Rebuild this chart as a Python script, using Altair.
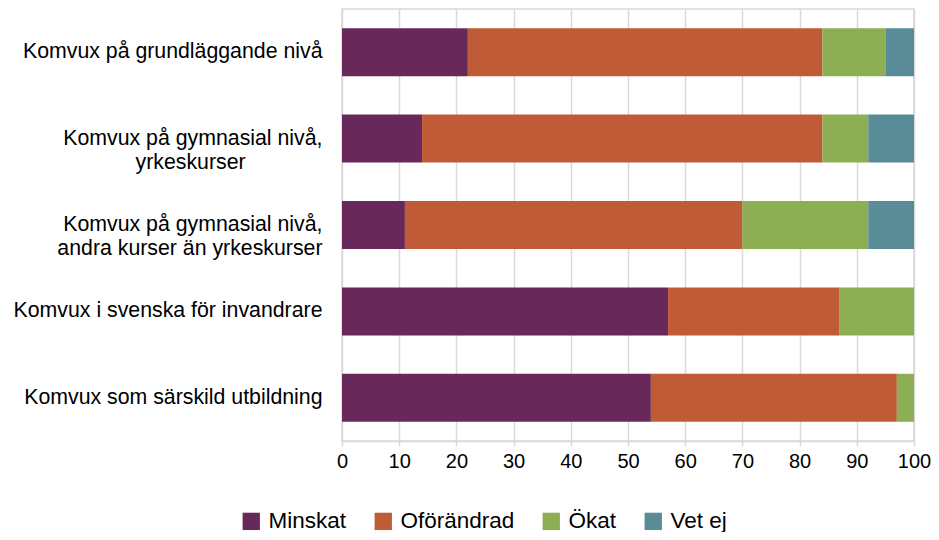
import altair as alt
import pandas as pd

categories = [
    "Komvux på grundläggande nivå",
    "Komvux på gymnasial nivå,\nyrkeskurser" + "\u00a0" * 13 + "\u200b",
    "Komvux på gymnasial nivå,\nandra kurser än yrkeskurser",
    "Komvux i svenska för invandrare",
    "Komvux som särskild utbildning",
]
series = ["Minskat", "Oförändrad", "Ökat", "Vet ej"]
minskat = [22, 14, 11, 57, 54]
oforandrad = [62, 70, 59, 30, 43]
okat = [11, 8, 22, 13, 3]
vet_ej = [5, 8, 8, 0, 0]
x_ticks = [0, 10, 20, 30, 40, 50, 60, 70, 80, 90, 100]
colors = ["#69285A", "#BF5B36", "#8DAE52", "#5A8C97"]

rows = []
for i, c in enumerate(categories):
    for j, (s, vals) in enumerate(zip(series, [minskat, oforandrad, okat, vet_ej])):
        rows.append({"kategori": c, "serie": s, "ordning": j, "andel": vals[i]})
df = pd.DataFrame(rows)

grid = "#D9D9D9"

chart = alt.Chart(df).mark_bar().encode(
    y=alt.Y(
        "kategori:N",
        sort=categories,
        title=None,
        scale=alt.Scale(paddingInner=0.444, paddingOuter=0.222),
        axis=alt.Axis(
            labelExpr="split(datum.label, '\\n')",
            labelFontSize=21.3,
            labelPadding=20,
            ticks=False,
            domain=False,
            labelLimit=400,
            labelLineHeight=24,
            labelColor="#000000",
        ),
    ),
    x=alt.X(
        "andel:Q",
        stack="zero",
        title=None,
        scale=alt.Scale(domain=[0, 100], nice=False),
        axis=alt.Axis(
            values=x_ticks,
            grid=True,
            gridColor=grid,
            gridWidth=1.5,
            tickColor=grid,
            tickWidth=1.5,
            tickSize=5,
            domainColor=grid,
            domainWidth=1.5,
            labelFontSize=20,
            labelPadding=5,
            labelFlush=False,
            labelColor="#000000",
        ),
    ),
    color=alt.Color(
        "serie:N",
        scale=alt.Scale(domain=series, range=colors),
        legend=alt.Legend(
            orient="none",
            legendX=-102,
            legendY=501,
            direction="horizontal",
            title=None,
            symbolType="square",
            symbolSize=300,
            symbolStrokeWidth=0,
            labelFontSize=22.5,
            labelColor="#000000",
            columnPadding=25,
            labelOffset=6,
            padding=0,
        ),
    ),
    order=alt.Order("ordning:Q"),
).properties(
    width=572,
    height=432,
    autosize=alt.AutoSizeParams(type="none"),
    padding={"left": 334, "top": 1, "right": 17, "bottom": 91},
).configure(
    font="Liberation Sans",
).configure_view(
    stroke=grid,
    strokeWidth=1.5,
)

chart.save("out.html", embed_options={"renderer": "svg", "actions": False})
